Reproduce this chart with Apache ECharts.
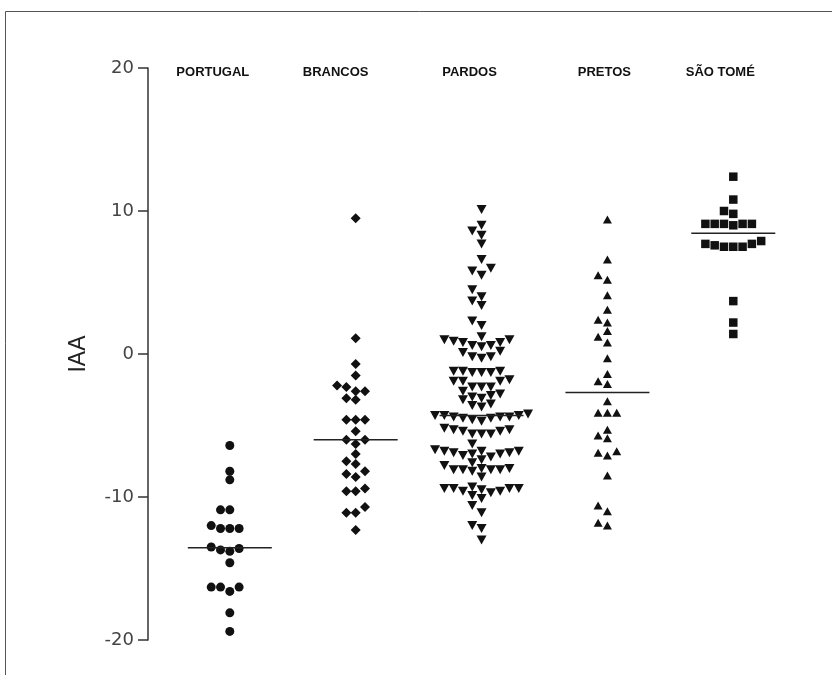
<!DOCTYPE html>
<html>
<head>
<meta charset="utf-8">
<script src="https://cdn.jsdelivr.net/npm/echarts@6/dist/echarts.min.js"></script>
<style>
  html,body{margin:0;padding:0;background:#fff;}
  #main{width:832px;height:675px;}
</style>
</head>
<body>
<div id="main"></div>
<script>
// groups, left to right
const groups = ['PORTUGAL', 'BRANCOS', 'PARDOS', 'PRETOS', 'SÃO TOMÉ']
const yTicks = [-20, -10, 0, 10, 20]

// IAA values
const portugal = [-6.4, -8.2, -8.8, -10.9, -10.9, -12.2, -12.2, -12.2, -12.0, -13.5,
  -13.7, -13.8, -13.6, -14.6, -16.3, -16.3, -16.6, -16.3, -18.1, -19.4]
const brancos = [9.5, 1.1, -0.7, -1.5, -2.3, -2.6, -2.2, -2.6, -3.2, -3.1,
  -4.6, -4.6, -4.6, -5.4, -6.0, -6.0, -6.3, -7.0, -7.5, -7.7,
  -8.2, -8.6, -8.4, -9.6, -9.6, -9.4, -10.7, -11.1, -11.1, -12.3]
const pardos = [10.1, 9.0, 8.6, 8.3, 7.7, 6.6, 6.0, 5.5, 5.8, 4.5, 4.0, 3.7, 3.4, 2.3, 2.0,
  1.0, 0.8, 0.6, 0.5, 1.2, 0.6, 0.8, 0.9, 1.0,
  0.2, -0.2, -0.3, -0.2, 0.1,
  -1.2, -1.3, -1.2, -1.3, -1.3, -1.2,
  -1.8, -1.9, -2.3, -2.3, -2.3, -1.9, -1.9,
  -2.8, -3.1, -3.0, -2.9, -2.6,
  -3.2, -3.7, -3.5, -3.6,
  -4.4, -4.5, -4.3, -4.2, -4.6, -4.3, -4.7, -4.4, -4.5, -4.4, -4.3,
  -5.3, -5.4, -5.6, -5.6, -5.6, -5.4, -5.3, -5.2,
  -6.3, -6.7, -6.8, -6.9, -7.0, -7.1, -7.4, -6.8, -7.2, -7.0, -6.9, -6.8,
  -8.0, -8.1, -7.8, -8.2, -8.1, -7.6, -8.1, -8.6, -8.1, -8.0,
  -9.4, -9.3, -9.4, -9.7, -9.6, -10.1, -9.4, -9.9, -9.6, -9.5, -9.4,
  -10.6, -11.1, -12.2, -12.0, -13.0]
const pretos = [9.4, 6.6, 5.2, 5.5, 4.1, 3.1, 2.4, 2.2, 1.6, 1.2, 0.8,
  -0.3, -1.4, -2.1, -1.9, -3.3, -4.1, -4.1, -4.1,
  -5.7, -5.9, -5.3, -6.8, -7.1, -6.9, -8.5, -10.6, -11.0, -11.8, -12.0]
const saoTome = [12.4, 10.8, 9.8, 10.0, 9.1, 9.1, 9.1, 9.0, 9.1, 9.1,
  7.9, 7.7, 7.5, 7.5, 7.5, 7.6, 7.7, 3.7, 2.2, 1.4]

const values = [portugal, brancos, pardos, pretos, saoTome]
const symbols = ['circle', 'diamond', 'triangle', 'triangle', 'rect']
const sizes = [9, 10, [10, 9], [9, 8], 8.5]
const rotates = [0, 0, 180, 0, 0]

// layout
const W = 832, H = 675
const grid = { left: 148, top: 68, right: 32, bottom: 35 }
const xMin = 0.35, xMax = 5.53
const pxPerX = (W - grid.left - grid.right) / (xMax - xMin)
const pxPerY = (H - grid.top - grid.bottom) / 40
const slotW = 9.3 / pxPerX
const halfLine = 42 / pxPerX
const labelShift = [-17, -20, -12, -3, -13]

const median = (arr) => {
  const s = [...arr].sort((a, b) => a - b)
  const m = Math.floor(s.length / 2)
  return s.length % 2 ? s[m] : (s[m - 1] + s[m]) / 2
}

// simple dot-plot spreading: points too close vertically go side by side
const swarm = (vals, g) => {
  const placed = []
  const order = vals.map((v, i) => i).sort((a, b) => vals[a] - vals[b])
  order.forEach(i => {
    const v = vals[i]
    for (let k = 0; ; k++) {
      const slot = k === 0 ? 0 : (k % 2 ? -(k + 1) / 2 : k / 2)
      const hit = placed.some(p => p.slot === slot && Math.abs(p.v - v) * pxPerY < 7.5)
      if (!hit) { placed.push({ slot, v }); break }
    }
  })
  return placed.map(p => [g + p.slot * slotW, p.v])
}

const series = []
values.forEach((vals, i) => {
  const g = i + 1
  series.push({
    type: 'scatter',
    data: swarm(vals, g),
    symbol: symbols[i],
    symbolSize: sizes[i],
    symbolRotate: rotates[i],
    itemStyle: { color: '#111', opacity: 1 },
    z: 2
  })
  const med = median(vals)
  series.push({
    type: 'line',
    data: [[g - halfLine, med], [g + halfLine, med]],
    symbol: 'none',
    lineStyle: { color: '#222', width: 1.5 },
    z: 3
  })
})

const graphic = groups.map((name, i) => ({
  type: 'text',
  x: grid.left + (i + 1 - xMin) * pxPerX + labelShift[i],
  y: 72,
  style: {
    text: name,
    align: 'center',
    verticalAlign: 'middle',
    fill: '#111',
    font: 'bold 13px "Liberation Sans", Arial, sans-serif'
  }
}))
graphic.push({
  type: 'rect',
  shape: { x: 5.5, y: 11.5, width: 1000, height: 1000 },
  style: { fill: 'none', stroke: '#555', lineWidth: 1 }
})

const chart = echarts.init(document.getElementById('main'))
chart.setOption({
  animation: false,
  grid: grid,
  xAxis: {
    type: 'value', min: xMin, max: xMax, show: false
  },
  yAxis: {
    type: 'value', min: yTicks[0], max: yTicks[yTicks.length - 1], interval: 10,
    name: 'IAA',
    nameLocation: 'middle',
    nameGap: 58,
    nameTextStyle: { fontSize: 23, color: '#222', fontFamily: 'Liberation Sans, Arial, sans-serif' },
    axisLine: { show: true, lineStyle: { color: '#333', width: 1.5 } },
    axisTick: { show: true, length: 10, lineStyle: { color: '#333', width: 1.5 } },
    splitLine: { show: false },
    axisLabel: { fontSize: 18, color: '#444', margin: 14, fontFamily: 'DejaVu Sans, sans-serif' }
  },
  graphic: graphic,
  series: series
})
</script>
</body>
</html>
